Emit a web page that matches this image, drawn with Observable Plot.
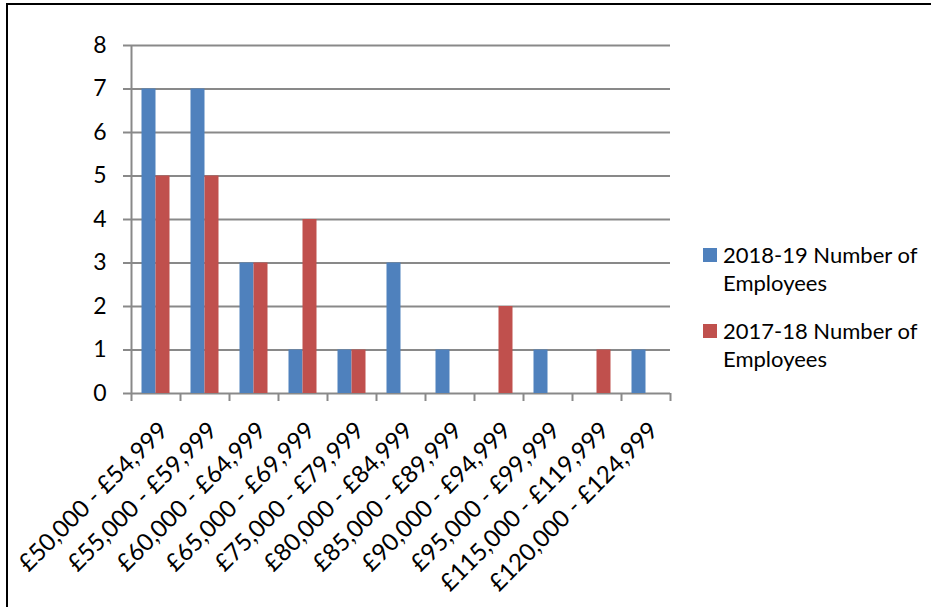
<!DOCTYPE html>
<html>
<head>
<meta charset="utf-8">
<script src="https://cdn.jsdelivr.net/npm/d3@7"></script>
<script src="https://cdn.jsdelivr.net/npm/@observablehq/plot@0.6"></script>
<style>
  html, body { margin: 0; padding: 0; background: #fff; }
  #wrap { position: relative; width: 931px; height: 607px; overflow: hidden; background: #fff; font-family: Lato, "Open Sans", sans-serif; }
  #border { position: absolute; left: 6px; top: 3px; width: 1000px; height: 1000px; border-left: 2px solid #000; border-top: 2px solid #000; pointer-events: none; }
  #chart { position: absolute; left: 0; top: 0; }
  #legend { position: absolute; left: 703px; top: 241px; font-size: 22px; line-height: 28px; color: #000; }
  .item { display: flex; align-items: flex-start; margin-bottom: 20px; }
  .sw { width: 14px; height: 14px; margin-top: 7px; margin-right: 6px; flex: none; }
</style>
</head>
<body>
<div id="wrap">
  <div id="chart"></div>
  <div id="legend"></div>
  <div id="border"></div>
</div>
<script>
const categories = [
  "£50,000 - £54,999", "£55,000 - £59,999", "£60,000 - £64,999", "£65,000 - £69,999",
  "£75,000 - £79,999", "£80,000 - £84,999", "£85,000 - £89,999", "£90,000 - £94,999",
  "£95,000 - £99,999", "£115,000 - £119,999", "£120,000 - £124,999"
];
const employees201819 = [7, 7, 3, 1, 1, 3, 1, 0, 1, 0, 1];
const employees201718 = [5, 5, 3, 4, 1, 0, 0, 2, 0, 1, 0];
const seriesNames = ["2018-19 Number of Employees", "2017-18 Number of Employees"];
const seriesLegend = [["2018-19 Number of", "Employees"], ["2017-18 Number of", "Employees"]];
const seriesColors = ["#4F81BD", "#C0504D"];
const yTicks = [0, 1, 2, 3, 4, 5, 6, 7, 8];

const data1819 = categories.map((c, i) => ({cat: c, v: employees201819[i]}));
const data1718 = categories.map((c, i) => ({cat: c, v: employees201718[i]}));

const W = 690, H = 607, ML = 131, MR = 20, MT = 45, MB = 214;
const bw = (W - ML - MR) / categories.length;
const gray = "#898989";
const fs = 23;

const chart = Plot.plot({
  width: W, height: H,
  marginLeft: ML, marginRight: MR, marginTop: MT, marginBottom: MB,
  style: {fontFamily: "Lato, 'Open Sans', sans-serif", fontSize: fs + "px", color: "#000", background: "transparent"},
  x: {domain: categories, padding: 0, label: null},
  y: {domain: [0, 8], label: null},
  marks: [
    Plot.gridY(yTicks, {stroke: gray, strokeOpacity: 1, strokeWidth: 2}),
    Plot.axisY(yTicks, {tickSize: 8, stroke: gray, strokeWidth: 2, tickPadding: 17, fontSize: fs, label: null}),
    Plot.ruleX([categories[0]], {dx: -bw / 2, stroke: gray, strokeWidth: 2}),
    Plot.barY(data1819, {x: "cat", y: "v", fill: seriesColors[0], insetLeft: bw * 1.5 / 7, insetRight: bw * 3.5 / 7}),
    Plot.barY(data1718, {x: "cat", y: "v", fill: seriesColors[1], insetLeft: bw * 3.5 / 7, insetRight: bw * 1.5 / 7}),
    Plot.axisX(categories, {tickSize: 8, dx: -bw / 2, stroke: gray, strokeWidth: 2, tickFormat: () => "", label: null}),
    Plot.axisX([categories[categories.length - 1]], {tickSize: 8, dx: bw / 2, stroke: gray, strokeWidth: 2, tickFormat: () => "", label: null}),
    Plot.axisX(categories, {tickSize: 0, tickRotate: -45, tickPadding: 33, dx: 8, fontSize: 24, label: null})
  ]
});
document.getElementById("chart").appendChild(chart);

const legend = document.getElementById("legend");
seriesNames.forEach((name, i) => {
  const item = document.createElement("div");
  item.className = "item";
  item.title = name;
  const sw = document.createElement("div");
  sw.className = "sw";
  sw.style.background = seriesColors[i];
  const txt = document.createElement("div");
  txt.innerHTML = seriesLegend[i].join("<br>");
  item.appendChild(sw);
  item.appendChild(txt);
  legend.appendChild(item);
});
</script>
</body>
</html>
